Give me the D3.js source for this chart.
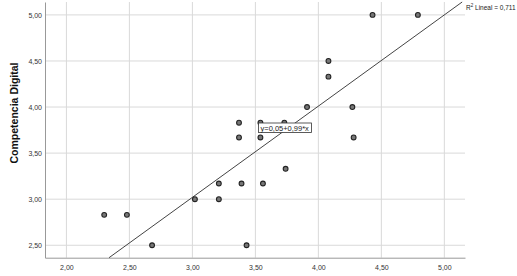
<!DOCTYPE html>
<html>
<head>
<meta charset="utf-8">
<script src="https://cdn.jsdelivr.net/npm/d3@7"></script>
<style>
  body { margin: 0; background: #fff; }
  svg { display: block; font-family: Arial, "Liberation Sans", sans-serif; }
</style>
</head>
<body>
<svg id="chart" width="517" height="276"></svg>
<script>
// scatter values
var xVals = [2.30, 2.48, 2.68, 3.02, 3.21, 3.21, 3.39, 3.56, 3.74, 3.43, 3.37, 3.54,
             3.37, 3.54, 3.73, 3.91, 4.08, 4.08, 4.43, 4.79, 4.27, 4.28];
var yVals = [2.83, 2.83, 2.50, 3.00, 3.00, 3.17, 3.17, 3.17, 3.33, 2.50, 3.67, 3.67,
             3.83, 3.83, 3.83, 4.00, 4.33, 4.50, 5.00, 5.00, 4.00, 3.67];
var xTicks = [2.0, 2.5, 3.0, 3.5, 4.0, 4.5, 5.0];
var yTicks = [2.5, 3.0, 3.5, 4.0, 4.5, 5.0];
var fitA = 0.05, fitB = 0.99;

var svg = d3.select("#chart");

var x = d3.scaleLinear().domain([1.83, 5.164]).range([45, 465]);
var y = d3.scaleLinear().domain([2.365, 5.14]).range([257.7, 2]);

var fmt = function(d) { return d3.format(".2f")(d).replace(".", ","); };

// grid
svg.append("g").selectAll("line").data(xTicks).enter().append("line")
  .attr("x1", d => x(d)).attr("x2", d => x(d))
  .attr("y1", y.range()[0]).attr("y2", y.range()[1])
  .attr("stroke", "#d9d9d9").attr("stroke-width", 1);
svg.append("g").selectAll("line").data(yTicks).enter().append("line")
  .attr("x1", x.range()[0]).attr("x2", x.range()[1])
  .attr("y1", d => y(d)).attr("y2", d => y(d))
  .attr("stroke", "#d9d9d9").attr("stroke-width", 1);

// axes
var xAxis = svg.append("g")
  .attr("transform", "translate(0," + y.range()[0] + ")")
  .call(d3.axisBottom(x).tickValues(xTicks).tickFormat(fmt).tickSize(0).tickPadding(7));
var yAxis = svg.append("g")
  .attr("transform", "translate(" + x.range()[0] + ",0)")
  .call(d3.axisLeft(y).tickValues(yTicks).tickFormat(fmt).tickSize(0).tickPadding(3));
[xAxis, yAxis].forEach(function(a) {
  a.select(".domain").attr("stroke", "#999");
  a.selectAll("text").attr("font-size", "7px").attr("fill", "#333")
    .attr("font-family", "Arial, 'Liberation Sans', sans-serif");
});

// y title
svg.append("text")
  .attr("transform", "translate(18,113) rotate(-90)")
  .attr("text-anchor", "middle")
  .attr("font-size", "10.5px").attr("font-weight", "bold").attr("fill", "#111")
  .text("Competencia Digital");

// fit line
var x0 = y.invert(y.range()[0]);
var xStart = (y.domain()[0] - fitA) / fitB;
var xEnd = (y.domain()[1] - fitA) / fitB;
svg.append("line")
  .attr("x1", x(xStart)).attr("y1", y(fitA + fitB * xStart))
  .attr("x2", x(xEnd)).attr("y2", y(fitA + fitB * xEnd))
  .attr("stroke", "#444").attr("stroke-width", 1);

// points
svg.append("g").selectAll("circle").data(xVals).enter().append("circle")
  .attr("cx", (d, i) => x(d)).attr("cy", (d, i) => y(yVals[i]))
  .attr("r", 2.4)
  .attr("fill", "#777").attr("stroke", "#222").attr("stroke-width", 1.1);

// equation label
var lab = svg.append("g").attr("transform", "translate(258.5,123)");
lab.append("rect").attr("width", 53).attr("height", 9.5)
  .attr("fill", "#fff").attr("stroke", "#333").attr("stroke-width", 0.8);
lab.append("text").attr("x", 2).attr("y", 7.6)
  .attr("font-size", "7.5px").attr("fill", "#222")
  .text("y=" + fmt(fitA) + "+" + fmt(fitB) + "*x");

// R2 label
var r2 = svg.append("text").attr("x", 466).attr("y", 10)
  .attr("font-size", "6.5px").attr("fill", "#222");
r2.append("tspan").text("R");
r2.append("tspan").attr("dy", -3).attr("font-size", "4.5px").text("2");
r2.append("tspan").attr("dy", 3).text(" Lineal = 0,711");
</script>
</body>
</html>
